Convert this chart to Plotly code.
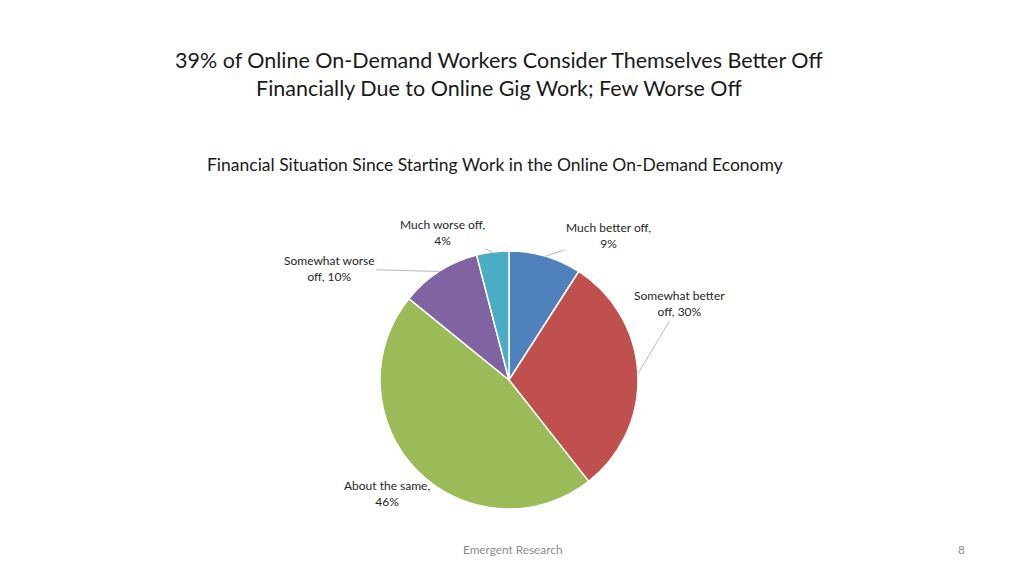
import math
import plotly.graph_objects as go

categories = ["Much better off", "Somewhat better off", "About the same", "Somewhat worse off", "Much worse off"]
values = [9, 30, 46, 10, 4]
label_texts = ["Much better off,<br>9%", "Somewhat better<br>off, 30%", "About the same,<br>46%",
               "Somewhat worse<br>off, 10%", "Much worse off,<br>4%"]
colors = ["#4F81BD", "#C0504D", "#9BBB59", "#8064A2", "#4BACC6"]

W, H = 1024, 576
FONT = "Lato"
# pie geometry (pixels)
cx, cy, r = 509, 380, 129
# label offsets from slice edge midpoint (pixels)
offsets = [(63, -21), (42, -70), (-30, 23), (-110, -3), (-50, -20)]
show_line = [True, True, False, True, True]

fig = go.Figure(go.Pie(
    labels=categories, values=values, sort=False, direction="clockwise", rotation=0,
    marker=dict(colors=colors, line=dict(color="white", width=1.5)),
    textinfo="none", hoverinfo="label+percent", showlegend=False,
    domain=dict(x=[(cx - r) / W, (cx + r) / W], y=[1 - (cy + r) / H, 1 - (cy - r) / H]),
))

total = sum(values)
cum = 0
annotations = []
lab_font = dict(family=FONT, size=12, color="#262626")
for v, txt, (dx, dy), sl in zip(values, label_texts, offsets, show_line):
    mid = (cum + v / 2) / total * 2 * math.pi
    cum += v
    px = cx + r * math.sin(mid)
    py = cy - r * math.cos(mid)
    if sl:
        annotations.append(dict(
            x=px / W, y=1 - py / H, xref="paper", yref="paper", text=txt,
            xanchor="center", yanchor="middle",
            showarrow=True, arrowhead=0, arrowwidth=0.8, arrowcolor="#A6A6A6",
            ax=dx, ay=dy, font=lab_font, align="center"))
    else:
        annotations.append(dict(
            x=(px + dx) / W, y=1 - (py + dy) / H, xref="paper", yref="paper", text=txt,
            xanchor="center", yanchor="middle",
            showarrow=False, font=lab_font, align="center"))

def txt_ann(x, y, text, size, color):
    return dict(x=x / W, y=1 - y / H, xref="paper", yref="paper", showarrow=False,
                xanchor="center", yanchor="middle", text=text, align="center",
                font=dict(family=FONT, size=size, color=color))

annotations += [
    txt_ann(499, 74, "39% of Online On-Demand Workers Consider Themselves Better Off<br>Financially Due to Online Gig Work; Few Worse Off", 21.5, "#1a1a1a"),
    txt_ann(495, 165, "Financial Situation Since Starting Work in the Online On-Demand Economy", 17.5, "#1a1a1a"),
    txt_ann(512, 549, "Emergent Research", 11.8, "#8C8C8C"),
    txt_ann(961, 549, "8", 11.8, "#8C8C8C"),
]

fig.update_layout(
    width=W, height=H, margin=dict(l=0, r=0, t=0, b=0),
    paper_bgcolor="white", plot_bgcolor="white",
    annotations=annotations,
)
fig.write_html("out.html", config={"displayModeBar": False},
               post_script="document.body.style.margin='0';")
